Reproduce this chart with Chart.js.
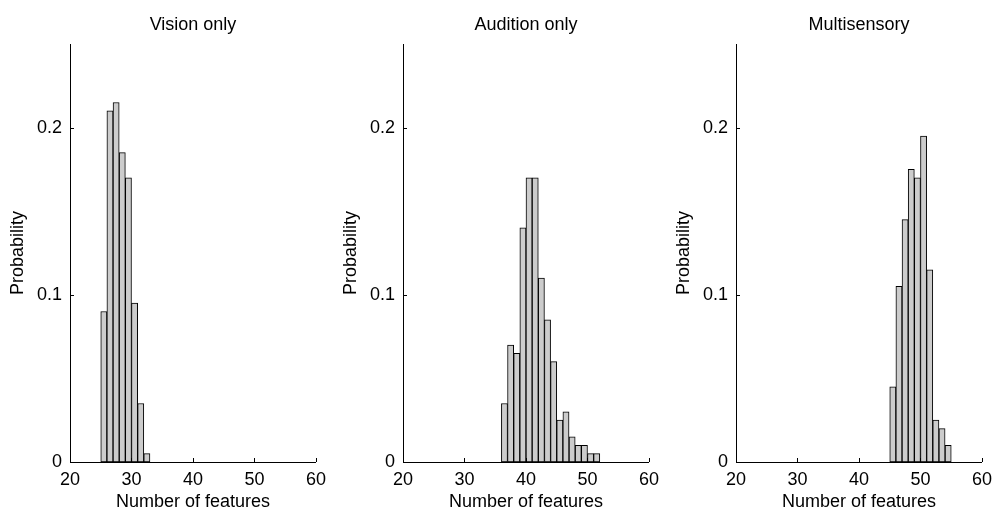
<!DOCTYPE html>
<html>
<head>
<meta charset="utf-8">
<script src="https://cdn.jsdelivr.net/npm/chart.js@4/dist/chart.umd.min.js"></script>
<style>
  html, body { margin: 0; padding: 0; background: #fff; }
  #wrap { position: relative; width: 1001px; height: 515px; }
  canvas { position: absolute; top: 0; }
</style>
</head>
<body>
<div id="wrap">
  <canvas id="c0" width="333" height="515" style="left:0px"></canvas>
  <canvas id="c1" width="333" height="515" style="left:333px"></canvas>
  <canvas id="c2" width="333" height="515" style="left:666px"></canvas>
</div>
<script>
// ---- Data ----
const panelTitles = ["Vision only", "Audition only", "Multisensory"];

// bin left edges (number of features) and probabilities
const visionBins = [25, 26, 27, 28, 29, 30, 31, 32];
const visionProb = [0.09, 0.21, 0.215, 0.185, 0.17, 0.095, 0.035, 0.005];

const auditionBins = [36, 37, 38, 39, 40, 41, 42, 43, 44, 45, 46, 47, 48, 49, 50, 51];
const auditionProb = [0.035, 0.07, 0.065, 0.14, 0.17, 0.17, 0.11, 0.085, 0.06, 0.025, 0.03, 0.015, 0.01, 0.01, 0.005, 0.005];

const multiBins = [45, 46, 47, 48, 49, 50, 51, 52, 53, 54];
const multiProb = [0.045, 0.105, 0.145, 0.175, 0.17, 0.195, 0.115, 0.025, 0.02, 0.01];

const xTicks = [20, 30, 40, 50, 60];
const yTicks = [0, 0.1, 0.2];
const xLabel = "Number of features";
const yLabel = "Probability";

// ---- Rendering ----
const FONT = "'Liberation Sans', Arial, Helvetica, sans-serif";

const inwardTicks = {
  id: 'inwardTicks',
  afterDraw(chart) {
    const ctx = chart.ctx;
    const xs = chart.scales.x, ys = chart.scales.y;
    const a = chart.chartArea;
    ctx.save();
    ctx.strokeStyle = '#000';
    ctx.lineWidth = 1;
    ctx.beginPath();
    xTicks.forEach(v => {
      const px = Math.round(xs.getPixelForValue(v)) + 0.5;
      ctx.moveTo(px, a.bottom);
      ctx.lineTo(px, a.bottom - 4);
    });
    yTicks.forEach(v => {
      const py = Math.round(ys.getPixelForValue(v)) + 0.5;
      ctx.moveTo(a.left, py);
      ctx.lineTo(a.left + 4, py);
    });
    ctx.stroke();
    ctx.restore();
  }
};

function makeChart(id, title, bins, probs) {
  const data = bins.map((b, i) => ({ x: b + 0.5, y: probs[i] }));
  return new Chart(document.getElementById(id), {
    type: 'bar',
    data: {
      datasets: [{
        data: data,
        backgroundColor: '#cccccc',
        borderColor: '#000000',
        borderWidth: 1,
        borderSkipped: false,
        barPercentage: 1.0,
        categoryPercentage: 1.0
      }]
    },
    options: {
      responsive: false,
      animation: false,
      devicePixelRatio: 1,
      layout: { padding: { top: 0, right: 14, left: 0, bottom: 0 } },
      plugins: {
        legend: { display: false },
        tooltip: { enabled: false },
        title: {
          display: true,
          text: title,
          fullSize: false,
          color: '#000',
          font: { family: FONT, size: 18, weight: 'normal', lineHeight: 1.2 },
          padding: { top: 14, bottom: 8.4 }
        }
      },
      scales: {
        x: {
          type: 'linear',
          min: 20, max: 60,
          offset: false,
          afterBuildTicks: s => { s.ticks = xTicks.map(v => ({ value: v })); },
          afterFit: s => { s.height = 53; },
          grid: { display: false, drawTicks: false },
          border: { display: true, color: '#000', width: 1 },
          ticks: {
            color: '#000',
            font: { family: FONT, size: 18 },
            padding: 7,
            maxRotation: 0,
            autoSkip: false
          },
          title: {
            display: true,
            text: xLabel,
            color: '#000',
            font: { family: FONT, size: 18, lineHeight: 1.2 },
            padding: { top: 0, bottom: 2 }
          }
        },
        y: {
          type: 'linear',
          min: 0, max: 0.25,
          afterBuildTicks: s => { s.ticks = yTicks.map(v => ({ value: v })); },
          afterFit: s => { s.width = 70; },
          grid: { display: false, drawTicks: false },
          border: { display: true, color: '#000', width: 1 },
          ticks: {
            color: '#000',
            font: { family: FONT, size: 18 },
            padding: 8,
            callback: v => String(Math.round(v * 10) / 10)
          },
          title: {
            display: true,
            text: yLabel,
            color: '#000',
            font: { family: FONT, size: 18, lineHeight: 1.2 },
            padding: { top: 7.5, bottom: 0 }
          }
        }
      }
    },
    plugins: [inwardTicks]
  });
}

makeChart('c0', panelTitles[0], visionBins, visionProb);
makeChart('c1', panelTitles[1], auditionBins, auditionProb);
makeChart('c2', panelTitles[2], multiBins, multiProb);
</script>
</body>
</html>
